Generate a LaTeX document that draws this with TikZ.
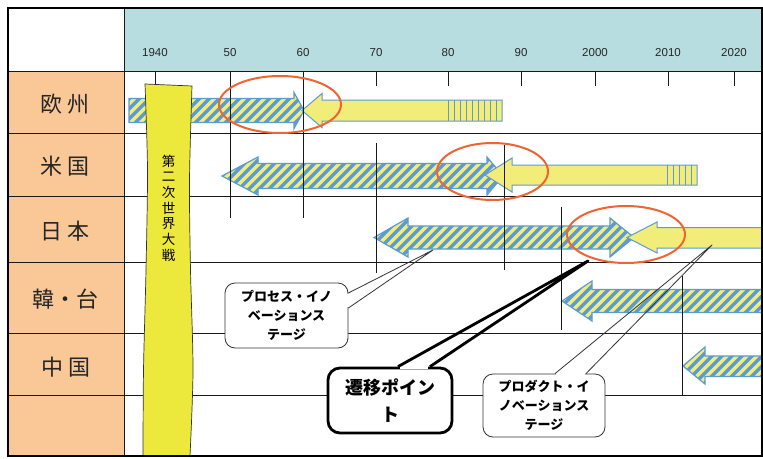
\documentclass[tikz,border=0pt]{standalone}
\usepackage{fontspec}
\setmainfont{Liberation Sans}
\newfontfamily\jp{Noto Sans CJK JP}
\usetikzlibrary{calc,shapes.geometric}
\definecolor{headteal}{RGB}{183,221,224}
\definecolor{peach}{RGB}{250,200,150}
\definecolor{ayellow}{RGB}{242,236,120}
\definecolor{byellow}{RGB}{237,232,60}
\definecolor{sblue}{RGB}{91,155,213}
\definecolor{ered}{RGB}{238,100,50}
\definecolor{gridc}{RGB}{25,25,25}

\newcommand\stripedshape[1]{%
  \begin{scope}
    \clip #1;
    \fill[ayellow] (0,0) rectangle (770,458);
    \foreach \s in {-460,-450,...,770} \draw[sblue, line width=3.5pt] (\s,458) -- ++(458,-458);
  \end{scope}
  \draw[sblue, line width=1.2pt] #1;}

\begin{document}
\begin{tikzpicture}[x=1pt,y=-1pt,
  gridline/.style={gridc, line width=0.9pt},
  yearlbl/.style={font=\fontsize{11.5}{12}\selectfont, text=black!85, inner sep=0pt},
  rowlbl/.style={font=\jp\fontsize{22}{24}\selectfont, text=black!85, inner sep=0pt},
  oval/.style={draw=ered, line width=2pt, ellipse, inner sep=0pt},
  yarr/.style={draw=sblue, line width=1pt, fill=ayellow},
  vstripe/.style={sblue, line width=1pt},
  callbox/.style={draw=black!80, line width=0.8pt, fill=white, rounded corners=10pt, align=center, font=\jp\bfseries\fontsize{13}{19}\selectfont, inner sep=0pt},
  callline/.style={black!80, line width=0.8pt, line join=round},
  transbox/.style={draw=black, line width=2.8pt, fill=white, rounded corners=12pt, align=center, font=\jp\bfseries\fontsize{18}{27}\selectfont, inner sep=0pt},
  transline/.style={black, line width=2.8pt, line join=round},
  gapfill/.style={white, line cap=butt},
  band/.style={fill=byellow, draw=black!80, line width=0.7pt},
  bandtext/.style={font=\jp\fontsize{13.5}{15.7}\selectfont, align=center, inner sep=0pt}]
\useasboundingbox (0,0) rectangle (763,458);

% backgrounds
\fill[white] (0,0) rectangle (763,458);
\fill[headteal] (124,8) rectangle (762,71);
\fill[peach] (8,71) rectangle (124,455);

% grid
\foreach \yy in {71,133,196,262,333,395} \draw[gridline] (8,\yy) -- (762,\yy);
\draw[gridline] (124,8) -- (124,455);

% row labels
\node[rowlbl] (eu) at (65,104) {欧\hspace{6pt}州};
\node[rowlbl] (us) at (65,166.5) {米\hspace{6pt}国};
\node[rowlbl] (jp) at (65,231) {日\hspace{6pt}本};
\node[rowlbl] (kt) at (65,299) {韓・台};
\node[rowlbl] (cn) at (66,367) {中\hspace{6pt}国};

% years and ticks
\foreach \xx/\lab in {155/1940,230/50,303/60,376/70,448/80,521/90,595/2000,668/2010,734/2020} {
  \node[yearlbl] (y\lab) at (\xx,53) {\lab};
  \draw[gridline] (\xx,71) -- (\xx,86);
}

% Europe
\stripedshape{(129,98.5) -- (294,98.5) -- (294,92.5) -- (304,110.5) -- (294,128.5) -- (294,122.5) -- (129,122.5) -- cycle}
\draw[yarr] (302,110.5) -- (322,93.5) -- (322,100) -- (502,100) -- (502,121) -- (322,121) -- (322,127.5) -- cycle;
\foreach \x in {448,454,...,496} \draw[vstripe] (\x,100) -- (\x,121);

% USA
\stripedshape{(222,176) -- (258,157) -- (258,163.5) -- (487,163.5) -- (487,157) -- (503,176) -- (487,195) -- (487,188.5) -- (258,188.5) -- (258,195) -- cycle}
\draw[yarr] (485,175) -- (512,158) -- (512,165) -- (697,165) -- (697,185) -- (512,185) -- (512,192) -- cycle;
\foreach \x in {667,673,...,691} \draw[vstripe] (\x,165) -- (\x,185);

% Japan
\stripedshape{(374,237.5) -- (408,218) -- (408,226) -- (610,226) -- (610,218) -- (634,237.5) -- (610,257) -- (610,249) -- (408,249) -- (408,257) -- cycle}
\draw[yarr] (627,237.5) -- (657,222) -- (657,227.5) -- (766,227.5) -- (766,248) -- (657,248) -- (657,253) -- cycle;

% Korea/Taiwan
\stripedshape{(562,301) -- (592,281) -- (592,289.5) -- (766,289.5) -- (766,312.5) -- (592,312.5) -- (592,321) -- cycle}

% China
\stripedshape{(683,366) -- (705,347) -- (705,356) -- (766,356) -- (766,376.5) -- (705,376.5) -- (705,384) -- cycle}

% long vertical lines
\draw[gridline] (230,71) -- (230,218);
\draw[gridline] (303,71) -- (303,218);
\draw[gridline] (376,143) -- (376,273);
\draw[gridline] (504,145) -- (504,270);
\draw[gridline] (561,207) -- (561,330);
\draw[gridline] (682,276) -- (682,395);

% WWII band
\path[band] plot[smooth] coordinates {(145,84) (147.5,170) (146,270) (143.5,370) (143,456)}
  -- plot[smooth] coordinates {(190,456) (193,370) (190.5,270) (189.5,180) (192,86)} -- cycle;
\node[bandtext] (ww2) at (168.5,208) {第\\二\\次\\世\\界\\大\\戦};

% ovals
\node[oval, minimum width=122pt, minimum height=57pt] (ovEU) at (280,104.5) {};
\node[oval, minimum width=111pt, minimum height=57pt] (ovUS) at (492.5,171.5) {};
\node[oval, minimum width=118pt, minimum height=57pt] (ovJP) at (626,234.5) {};

% callout: process innovation stage
\node[callbox, minimum width=123pt, minimum height=65pt] (proc) at (286.5,315.5) {プロセス・イノ\\ベーションス\\テージ};
\coordinate (procTip) at (433,250);
\draw[gapfill, line width=2pt] ($(proc.east)+(0,-21.8)$) -- ($(proc.east)+(0,-8.2)$);
\draw[callline] ($(proc.east)+(0,-22.5)$) -- (procTip) -- ($(proc.east)+(0,-7.5)$);

% callout: transition point
\node[transbox, minimum width=124pt, minimum height=65pt] (trans) at (390,400.5) {遷移ポイン\\ト};
\coordinate (transTip) at (588,261);
\draw[gapfill, line width=4pt] ($(trans.north)+(10,0)$) -- ($(trans.north)+(38,0)$);
\draw[transline] ($(trans.north)+(8,0)$) -- (transTip) -- ($(trans.north)+(40,0)$);

% callout: product innovation stage
\node[callbox, minimum width=122pt, minimum height=63pt] (prod) at (544,405.5) {プロダクト・イ\\ノベーションス\\テージ};
\coordinate (prodTip) at (712,245);
\draw[gapfill, line width=2pt] ($(prod.north)+(11.8,0)$) -- ($(prod.north)+(41.2,0)$);
\draw[callline] ($(prod.north)+(11,0)$) -- (prodTip) -- ($(prod.north)+(42,0)$);

% frame
\draw[black, line width=2pt] (8,8) rectangle (762,455.5);
\end{tikzpicture}
\end{document}
